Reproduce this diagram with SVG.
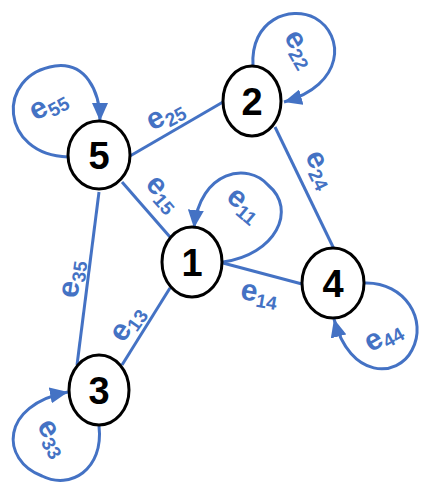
<svg xmlns="http://www.w3.org/2000/svg" width="435" height="490" viewBox="0 0 435 490">
<style>
.node ellipse{fill:#fff;stroke:#000;stroke-width:3}
.node text{font-family:"Liberation Sans",Arial,sans-serif;font-weight:bold;font-size:38px;text-anchor:middle;fill:#000}
.edge{fill:none;stroke:#4472C4;stroke-width:3}
.lbl{font-family:"Liberation Sans",Arial,sans-serif;font-weight:bold;font-size:30px;fill:#4472C4;text-anchor:middle}
.sub{font-size:19px}
</style>
<defs>
<marker id="arr" markerUnits="userSpaceOnUse" markerWidth="18" markerHeight="16" refX="18" refY="8" orient="auto">
<path d="M0,0 L18,8 L0,16 z" fill="#4472C4"/>
</marker>
</defs>
<g id="connectors">
<line class="edge" x1="130" y1="156" x2="223" y2="102"/>
<line class="edge" x1="122" y1="182" x2="170" y2="237"/>
<line class="edge" x1="99" y1="192" x2="77" y2="365"/>
<line class="edge" x1="170" y1="288" x2="122" y2="365"/>
<line class="edge" x1="223" y1="263" x2="302" y2="284"/>
<line class="edge" x1="275" y1="127" x2="334" y2="249"/>
<path class="edge" marker-end="url(#arr)" d="M68,157 C0,155 -5,75 55,66 C85,62 100,90 100,121"/>
<path class="edge" marker-end="url(#arr)" d="M253,66 C250,20 290,5 315,18 C345,35 345,85 284,102"/>
<path class="edge" marker-end="url(#arr)" d="M223,262 C275,255 298,210 268,185 C248,162 200,170 194,228"/>
<path class="edge" marker-end="url(#arr)" d="M365,283 C405,282 428,320 412,350 C398,378 350,380 334,319"/>
<path class="edge" marker-end="url(#arr)" d="M99,426 C104,470 70,490 42,476 C0,460 0,405 68,392"/>
<text class="lbl" transform="translate(52,112) rotate(-28)">e<tspan class="sub" dy="5">55</tspan></text>
<text class="lbl" transform="translate(169,122) rotate(-28)">e<tspan class="sub" dy="5">25</tspan></text>
<text class="lbl" transform="translate(157,199) rotate(49)">e<tspan class="sub" dy="5">15</tspan></text>
<text class="lbl" transform="translate(293,53) rotate(60)">e<tspan class="sub" dy="5">22</tspan></text>
<text class="lbl" transform="translate(313,173) rotate(64)">e<tspan class="sub" dy="5">24</tspan></text>
<text class="lbl" transform="translate(239,211) rotate(40)">e<tspan class="sub" dy="5">11</tspan></text>
<text class="lbl" transform="translate(258,302) rotate(10)">e<tspan class="sub" dy="5">14</tspan></text>
<text class="lbl" transform="translate(387,343) rotate(-30)">e<tspan class="sub" dy="5">44</tspan></text>
<text class="lbl" transform="translate(80,280) rotate(-82)">e<tspan class="sub" dy="5">35</tspan></text>
<text class="lbl" transform="translate(134,328) rotate(-55)">e<tspan class="sub" dy="5">13</tspan></text>
<text class="lbl" transform="translate(46,442) rotate(60)">e<tspan class="sub" dy="5">33</tspan></text>
</g>
<g id="node5" class="node"><ellipse cx="99" cy="155" rx="31" ry="34"/><text x="99" y="169">5</text></g>
<g id="node2" class="node"><ellipse cx="252" cy="101" rx="29" ry="35"/><text x="252" y="115">2</text></g>
<g id="node1" class="node"><ellipse cx="192" cy="262" rx="30" ry="35"/><text x="192" y="276">1</text></g>
<g id="node4" class="node"><ellipse cx="333" cy="283" rx="31" ry="35"/><text x="333" y="297">4</text></g>
<g id="node3" class="node"><ellipse cx="99" cy="390" rx="30" ry="35"/><text x="99" y="404">3</text></g>
</svg>
